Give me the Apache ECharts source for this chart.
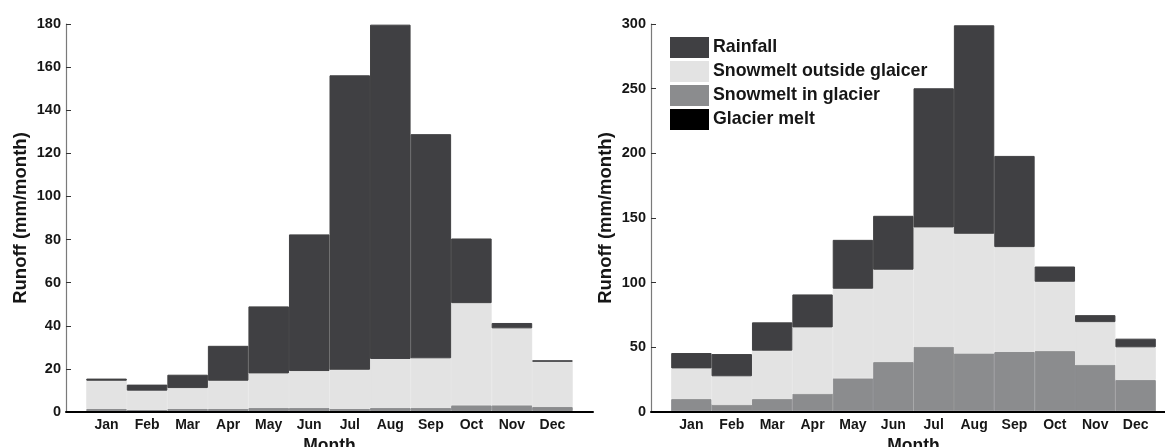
<!DOCTYPE html>
<html>
<head>
<meta charset="utf-8">
<script src="https://cdn.jsdelivr.net/npm/echarts@6/dist/echarts.min.js"></script>
<style>
  html, body { margin: 0; padding: 0; background: #ffffff; overflow: hidden; }
  #chart { width: 1165px; height: 447px; }
</style>
</head>
<body>
<div id="chart"></div>
<script>
// ---- data ----
const months = ['Jan', 'Feb', 'Mar', 'Apr', 'May', 'Jun', 'Jul', 'Aug', 'Sep', 'Oct', 'Nov', 'Dec'];
const seriesNames = ['Glacier melt', 'Snowmelt in glacier', 'Snowmelt outside glaicer', 'Rainfall'];

// Left panel (mm/month)
const leftGlacierMelt     = [0.4, 0.4, 0.4, 0.4, 0.4, 0.4, 0.4, 0.4, 0.4, 0.4, 0.4, 0.4];
const leftSnowInGlacier   = [1.0, 0.5, 1.0, 1.0, 1.5, 1.5, 1.0, 1.5, 1.5, 2.7, 2.7, 1.9];
const leftSnowOutside     = [13.1, 9.0, 9.7, 13.1, 16.0, 17.1, 18.2, 22.7, 23.0, 47.4, 35.7, 21.0];
const leftRainfall        = [1.0, 2.8, 6.2, 16.2, 31.1, 63.4, 136.6, 155.1, 104.0, 30.0, 2.5, 0.7];

// Right panel (mm/month)
const rightGlacierMelt    = [0.5, 0.5, 0.5, 0.5, 0.5, 0.5, 0.5, 0.5, 0.5, 0.5, 0.5, 0.5];
const rightSnowInGlacier  = [9.5, 5.2, 9.5, 13.7, 25.5, 38.1, 50.0, 44.8, 45.9, 46.6, 36.1, 24.2];
const rightSnowOutside    = [23.7, 21.9, 37.4, 51.2, 69.3, 71.4, 92.2, 92.5, 81.1, 53.6, 32.9, 25.3];
const rightRainfall       = [11.9, 17.2, 21.9, 25.5, 37.8, 41.7, 107.6, 161.2, 70.5, 11.8, 5.4, 6.7];

const leftTicks = { min: 0, max: 180, interval: 20 };
const rightTicks = { min: 0, max: 300, interval: 50 };

// ---- styling ----
const FONT = 'Liberation Sans, Arial, sans-serif';
const TXT = '#161616';
const colors = {
  'Glacier melt': '#000000',
  'Snowmelt in glacier': '#8b8c8e',
  'Snowmelt outside glaicer': '#e3e3e3',
  'Rainfall': '#404043'
};

// pad with an empty slot at each end so bars sit half a band away from axis
const padCats = ['', ...months, ''];
const pad = arr => ['-', ...arr, '-'];

function xAxis(gridIndex) {
  return {
    type: 'category', gridIndex, data: padCats, boundaryGap: false,
    name: 'Month', nameLocation: 'middle', nameGap: 24,
    nameTextStyle: { fontFamily: FONT, fontWeight: 'bold', fontSize: 17.5, color: TXT },
    axisLine: { show: true, lineStyle: { color: '#000', width: 2 } },
    axisTick: { show: false },
    axisLabel: { fontFamily: FONT, fontWeight: 'bold', fontSize: 14, color: TXT, margin: 6, interval: 0 },
    splitLine: { show: false },
    z: 5
  };
}
function yAxis(gridIndex, t) {
  return {
    type: 'value', gridIndex, min: t.min, max: t.max, interval: t.interval,
    name: 'Runoff (mm/month)', nameLocation: 'middle', nameGap: 36,
    nameTextStyle: { fontFamily: FONT, fontWeight: 'bold', fontSize: 18.5, color: TXT },
    axisLine: { show: true, lineStyle: { color: '#7a7a7a', width: 1.2 } },
    axisTick: { show: true, inside: true, length: 5, lineStyle: { color: '#333', width: 1 } },
    axisLabel: { fontFamily: FONT, fontWeight: 'bold', fontSize: 14.5, color: TXT, margin: 5 },
    splitLine: { show: false }
  };
}
function bar(name, data, idx, stack) {
  return {
    type: 'bar', name, xAxisIndex: idx, yAxisIndex: idx, stack,
    data: pad(data), barWidth: '100%', barCategoryGap: '0%',
    itemStyle: { color: colors[name], borderColor: colors[name], borderWidth: 1 },
    emphasis: { disabled: true }, animation: false
  };
}

const chart = echarts.init(document.getElementById('chart'), null, { renderer: 'canvas' });
chart.setOption({
  backgroundColor: '#ffffff',
  animation: false,
  grid: [
    { left: 66, top: 24, width: 527, height: 388, outerBoundsMode: 'none', containLabel: false },
    { left: 651, top: 24, width: 525, height: 388, outerBoundsMode: 'none', containLabel: false }
  ],
  legend: {
    orient: 'vertical', left: 670, top: 37, padding: 0,
    itemWidth: 37, itemHeight: 19, itemGap: 3,
    data: ['Rainfall', 'Snowmelt outside glaicer', 'Snowmelt in glacier', 'Glacier melt'],
    icon: 'rect',
    textStyle: { fontFamily: FONT, fontWeight: 'bold', fontSize: 17.8, color: TXT },
    selectedMode: false
  },
  xAxis: [xAxis(0), xAxis(1)],
  yAxis: [yAxis(0, leftTicks), yAxis(1, rightTicks)],
  series: [
    bar('Glacier melt', leftGlacierMelt, 0, 'L'),
    bar('Snowmelt in glacier', leftSnowInGlacier, 0, 'L'),
    bar('Snowmelt outside glaicer', leftSnowOutside, 0, 'L'),
    bar('Rainfall', leftRainfall, 0, 'L'),
    bar('Glacier melt', rightGlacierMelt, 1, 'R'),
    bar('Snowmelt in glacier', rightSnowInGlacier, 1, 'R'),
    bar('Snowmelt outside glaicer', rightSnowOutside, 1, 'R'),
    bar('Rainfall', rightRainfall, 1, 'R')
  ]
});
</script>
</body>
</html>
